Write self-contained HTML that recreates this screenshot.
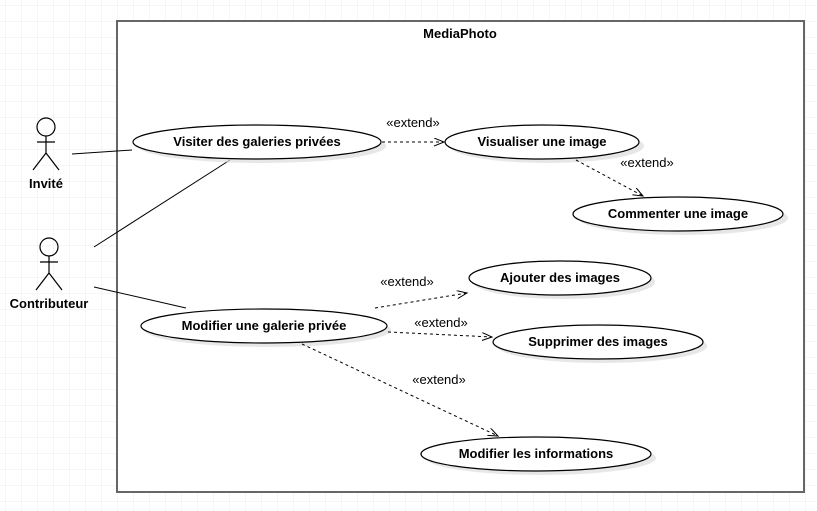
<!DOCTYPE html>
<html><head><meta charset="utf-8"><style>
html,body{margin:0;padding:0;width:817px;height:511px;overflow:hidden;background:#fff;}
svg{display:block;font-family:"Liberation Sans",sans-serif;}
</style></head><body>
<svg width="817" height="511" viewBox="0 0 817 511">
<defs>
<pattern id="g" width="16" height="16" patternUnits="userSpaceOnUse" x="5" y="5">
<path d="M16 0H0V16" fill="none" stroke="#ececec" stroke-width="1"/>
</pattern>
<marker id="a" markerWidth="12" markerHeight="10" refX="10" refY="4" orient="auto" markerUnits="userSpaceOnUse">
<path d="M0 0L10 4L0 8" fill="none" stroke="#000" stroke-width="1"/>
</marker>
</defs>
<rect width="817" height="511" fill="url(#g)"/>
<rect x="117" y="21" width="687" height="471" fill="#fff" stroke="#666" stroke-width="2"/>
<text x="460" y="38" text-anchor="middle" font-size="13" font-weight="bold">MediaPhoto</text>

<g fill="#000" font-size="13" font-weight="bold" text-anchor="middle">
<g stroke="#000" fill="none" stroke-width="1.2">
<circle cx="46" cy="127" r="9"/><path d="M46 136V153M37 142H55M33 170L46 153L59 170"/>
<circle cx="49" cy="247" r="9"/><path d="M49 256V273M40 262H58M36 290L49 273L62 290"/>
</g>
<text x="46" y="188">Invité</text>
<text x="49" y="308">Contributeur</text>
</g>

<g stroke="#000" stroke-width="1" fill="none">
<path d="M72 154L132 150"/>
<path d="M94 247L230 160"/>
<path d="M94 287L186 308"/>
</g>

<g fill="#ddd" opacity="0.7">
<ellipse cx="262" cy="146" rx="124" ry="17"/>
<ellipse cx="547" cy="146" rx="97" ry="17"/>
<ellipse cx="683" cy="218" rx="105" ry="17"/>
<ellipse cx="564" cy="282" rx="91" ry="17"/>
<ellipse cx="602" cy="346" rx="105" ry="17"/>
<ellipse cx="268" cy="330" rx="123" ry="17"/>
<ellipse cx="541" cy="458" rx="115" ry="17"/>
</g>
<g fill="#fff" stroke="#000" stroke-width="1.2">
<ellipse cx="257" cy="142" rx="124" ry="17"/>
<ellipse cx="542" cy="142" rx="97" ry="17"/>
<ellipse cx="678" cy="214" rx="105" ry="17"/>
<ellipse cx="560" cy="278" rx="91" ry="17"/>
<ellipse cx="598" cy="342" rx="105" ry="17"/>
<ellipse cx="264" cy="326" rx="123" ry="17"/>
<ellipse cx="536" cy="454" rx="115" ry="17"/>
</g>
<g font-size="13" font-weight="bold" text-anchor="middle">
<text x="257" y="146">Visiter des galeries privées</text>
<text x="542" y="146">Visualiser une image</text>
<text x="678" y="218">Commenter une image</text>
<text x="560" y="282">Ajouter des images</text>
<text x="598" y="346">Supprimer des images</text>
<text x="264" y="330">Modifier une galerie privée</text>
<text x="536" y="458">Modifier les informations</text>
</g>

<g stroke="#000" stroke-width="1" fill="none" stroke-dasharray="3,3" marker-end="url(#a)">
<path d="M382 142L444 142"/>
<path d="M576 160L643 196"/>
<path d="M375 308L467 293"/>
<path d="M388 332L492 337"/>
<path d="M302 344L498 436"/>
</g>
<g font-size="13" text-anchor="middle">
<text x="413" y="127">«extend»</text>
<text x="647" y="167">«extend»</text>
<text x="407" y="286">«extend»</text>
<text x="441" y="327">«extend»</text>
<text x="439" y="384">«extend»</text>
</g>
</svg>
</body></html>
